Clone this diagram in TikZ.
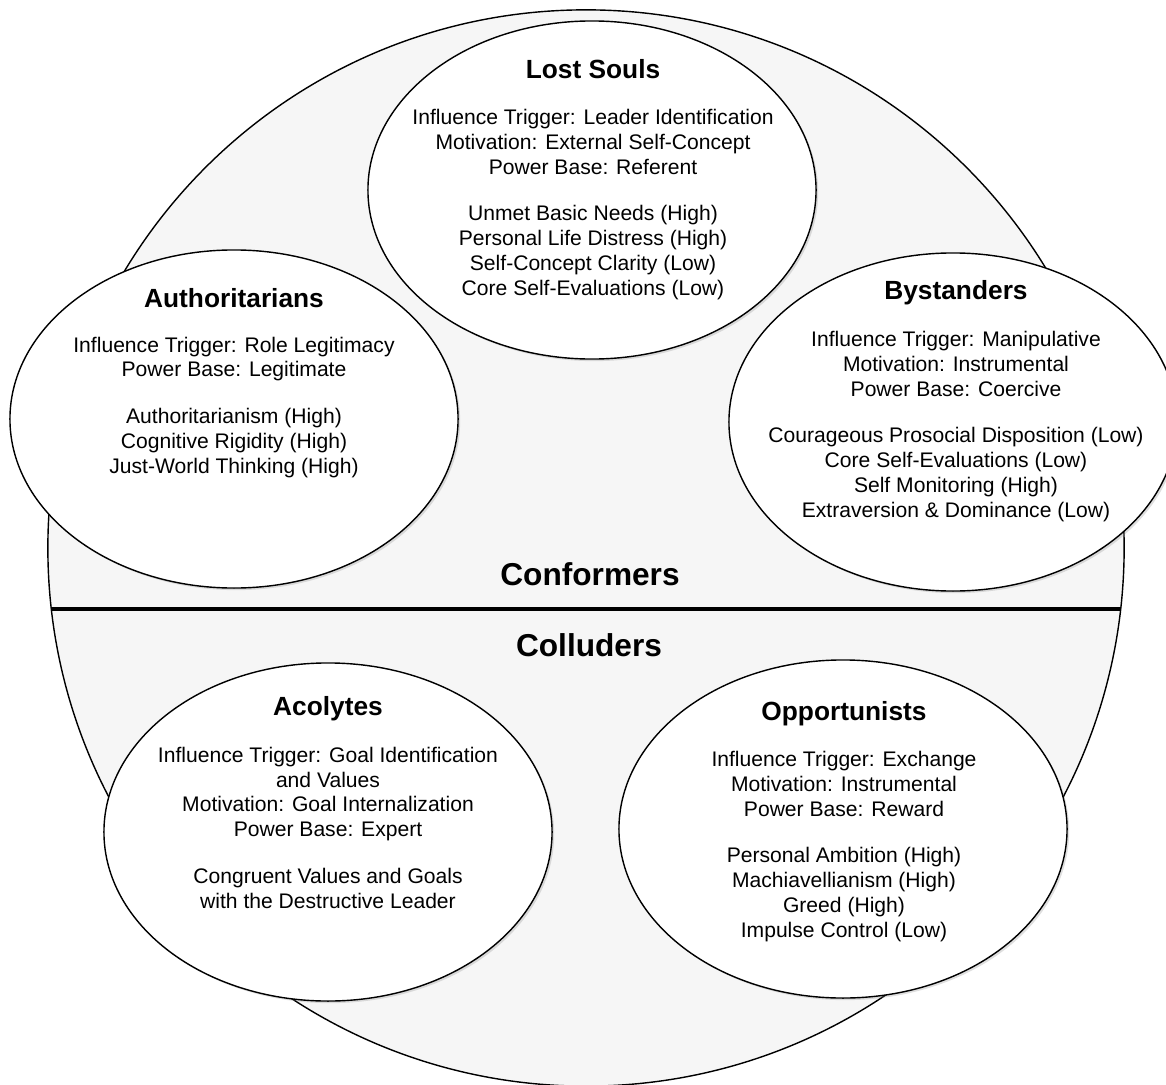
\documentclass[tikz,border=0pt]{standalone}
\usepackage{fontspec}
\setmainfont{Liberation Sans}
\usetikzlibrary{shapes.geometric, shadows}

\definecolor{circlefill}{HTML}{F6F6F6}

\begin{document}
\begin{tikzpicture}[x=0.025cm, y=-0.025cm]
        \tikzset{
            outerring/.style={circle, draw, line width=1pt, fill=circlefill, minimum size=26.9cm, inner sep=0pt}, % the big circle round everything
            group/.style={ellipse, draw, line width=1pt, fill=white, minimum width=11.2cm, minimum height=8.45cm, inner sep=0pt,
                drop shadow={opacity=0.25, shadow xshift=1.5pt, shadow yshift=-1.5pt}}, % one ellipse per follower type
            grouptitle/.style={font=\fontsize{18.7}{22}\selectfont\bfseries, anchor=base},
            groupbody/.style={font=\fontsize{15}{17.6}\selectfont, align=center, anchor=base}, % base = last line
            splitlabel/.style={font=\fontsize{22.5}{26}\selectfont\bfseries, anchor=base},
            }
        \useasboundingbox (0,0) rectangle (1166,1085);

        % background
        \node[outerring] (outer) at (586,548) {};
        \coordinate (split_left) at (51.5,609);
        \coordinate (split_right) at (1120.5,609);
        \draw[line width=3.5pt] (split_left) -- (split_right);
        \node[splitlabel] (conformers) at (590,585) {Conformers};
        \node[splitlabel] (colluders) at (589,656) {Colluders};

        % ellipses
        \node[group] (lost_souls) at (592,190) {};
        \node[group] (authoritarians) at (234,419) {};
        \node[group] (bystanders) at (953,422) {};
        \node[group] (acolytes) at (328,832) {};
        \node[group] (opportunists) at (843,829) {};

        % titles
        \node[grouptitle] (lost_souls_title) at (593,78) {Lost Souls};
        \node[grouptitle] (authoritarians_title) at (234,307) {Authoritarians};
        \node[grouptitle] (bystanders_title) at (956,299) {Bystanders};
        \node[grouptitle] (acolytes_title) at (328,715) {Acolytes};
        \node[grouptitle] (opportunists_title) at (844,720) {Opportunists};

        % texts
        \node[groupbody] (lost_souls_text) at (593,295) {Influence Trigger: Leader Identification\\ Motivation: External Self-Concept\\ Power Base: Referent\\[0.55cm] Unmet Basic Needs (High)\\ Personal Life Distress (High)\\ Self-Concept Clarity (Low)\\ Core Self-Evaluations (Low)};
        \node[groupbody] (authoritarians_text) at (234,473) {Influence Trigger: Role Legitimacy\\ Power Base: Legitimate\\[0.55cm] Authoritarianism (High)\\ Cognitive Rigidity (High)\\ Just-World Thinking (High)};
        \node[groupbody] (bystanders_text) at (956,517) {Influence Trigger: Manipulative\\ Motivation: Instrumental\\ Power Base: Coercive\\[0.55cm] Courageous Prosocial Disposition (Low)\\ Core Self-Evaluations (Low)\\ Self Monitoring (High)\\ Extraversion \& Dominance (Low)};
        \node[groupbody] (acolytes_text) at (328,908) {Influence Trigger: Goal Identification\\ and Values\\ Motivation: Goal Internalization\\ Power Base: Expert\\[0.55cm] Congruent Values and Goals\\ with the Destructive Leader};
        \node[groupbody] (opportunists_text) at (844,937) {Influence Trigger: Exchange\\ Motivation: Instrumental\\ Power Base: Reward\\[0.55cm] Personal Ambition (High)\\ Machiavellianism (High)\\ Greed (High)\\ Impulse Control (Low)};
    \end{tikzpicture}
\end{document}
